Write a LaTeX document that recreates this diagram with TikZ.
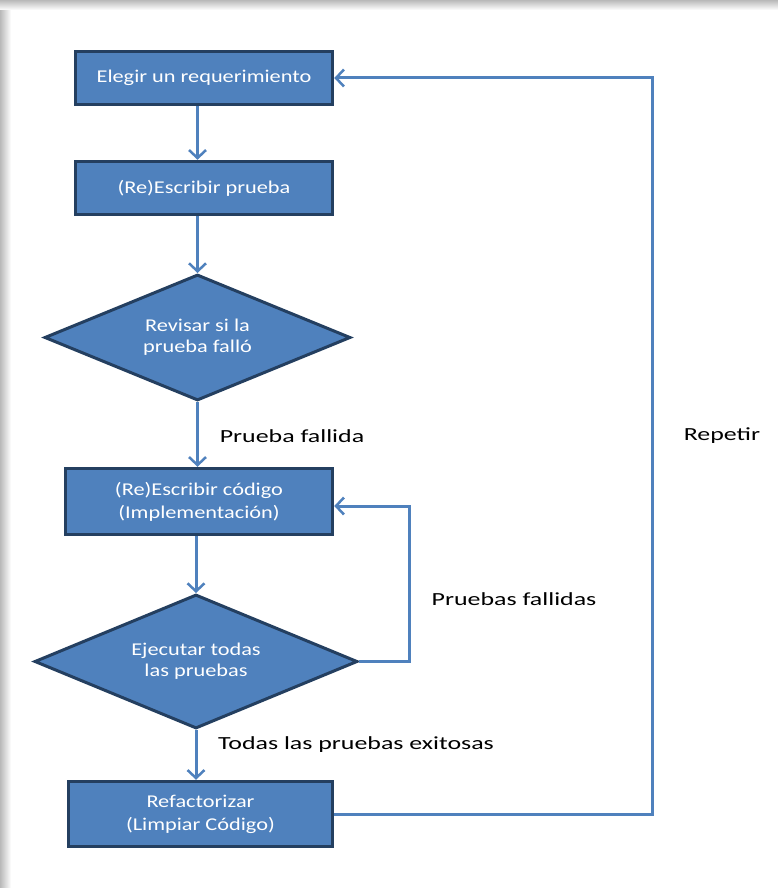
\documentclass[tikz,border=0pt]{standalone}
\usepackage{fontspec}
\usetikzlibrary{positioning,shapes.geometric,arrows.meta}
\newfontfamily\boxfont[FakeStretch=1.24]{Carlito}
\newfontfamily\labelfont[FakeStretch=1.4]{Carlito}
\definecolor{officeblue}{HTML}{4F81BD}
\definecolor{officedark}{HTML}{243F60}

\begin{document}
\begin{tikzpicture}[
    x=1pt, y=-1pt,
    tddbox/.style={draw=officedark, line width=3.5pt, rectangle, fill=officeblue, text=white, align=center, font=\boxfont\fontsize{18}{23}\selectfont, minimum width=257pt, minimum height=53pt, inner sep=0pt},
    tdddec/.style={draw=officedark, line width=3pt, diamond, aspect=2.4, fill=officeblue, text=white, align=center, font=\boxfont\fontsize{18}{21}\selectfont, inner sep=0pt},
    tddlabel/.style={font=\labelfont\fontsize{18.5}{22}\selectfont, text=black},
    tddarrow/.style={draw=officeblue, line width=3pt, line join=miter, -{Straight Barb[length=8pt,width=17pt,line width=2.5pt]}}
]
  % Page and shadow
  \useasboundingbox (0,0) rectangle (778,888);
  \fill[white] (0,0) rectangle (778,888);
  \shade[left color=gray!55, right color=white] (0,0) rectangle (11,888);
  \shade[top color=gray!55, bottom color=white] (0,0) rectangle (778,10);

  % Nodes
  \node (pick) [tddbox] at (204,78) {Elegir un requerimiento};
  \node (test) [tddbox] at (204,188) {(Re)Escribir prueba};
  \node (check) [tdddec, minimum width=306pt, minimum height=126pt] at (197.5,337.5) {Revisar si la\\prueba falló};
  \node (code) [tddbox, minimum width=267pt, minimum height=66pt] at (199,501.5) {(Re)Escribir código\\(Implementación)};
  \node (run) [tdddec, minimum width=323pt, minimum height=134pt] at (196,661.5) {Ejecutar todas\\las pruebas};
  \node (refac) [tddbox, minimum width=264pt, minimum height=65pt] at (200.5,814) {Refactorizar\\(Limpiar Código)};

  \coordinate (loopc) at (409,506);
  \coordinate (rep) at (652,78);

  % Labels
  \node (lblfail) [tddlabel] at (292,436) {Prueba fallida};
  \node (lblfails) [tddlabel] at (514,599) {Pruebas fallidas};
  \node (lblok) [tddlabel] at (356,745) {Todas las pruebas exitosas};
  \node (lblrep) [tddlabel] at (722,436) {Repetir};

  % Arrows
  \draw [tddarrow] (pick.south -| check.north) -- (test.north -| check.north);
  \draw [tddarrow] (test.south -| check.north) -- (check.north);
  \draw [tddarrow] (check.south) -- (check.south |- code.north);
  \draw [tddarrow] (run.north |- code.south) -- (run.north);
  \draw [tddarrow] (run.south) -- (run.south |- refac.north);
  \draw [tddarrow] (run.east) -| (loopc) -- (code.east |- loopc);
  \draw [tddarrow] (refac.east) -| (rep) -- (pick.east |- rep);
\end{tikzpicture}
\end{document}
